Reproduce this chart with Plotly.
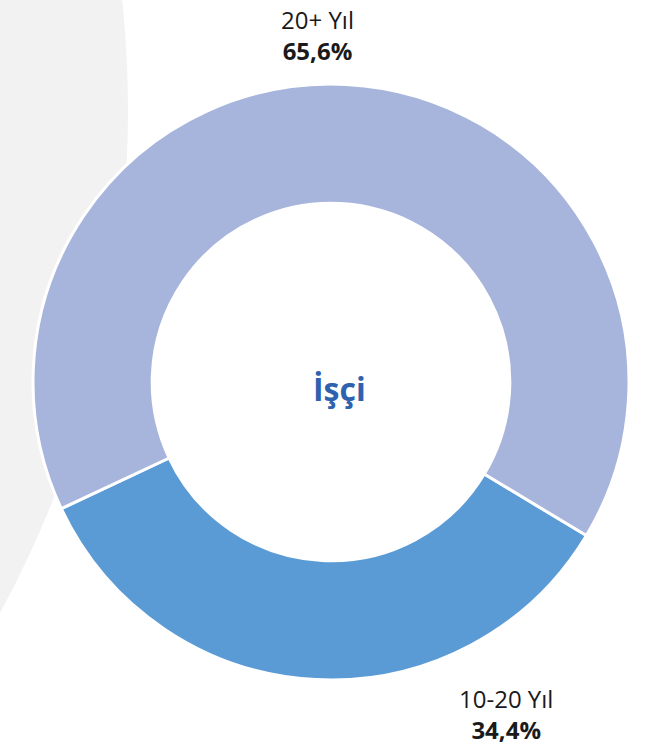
import plotly.graph_objects as go

# Data
categories = ["10-20 Yıl", "20+ Yıl"]
values = [34.4, 65.6]
colors = ["#5B9BD5", "#A7B5DC"]
center_label = "İşçi"

def fmt(v):
    return f"{v:.1f}".replace(".", ",") + "%"

W, H = 648, 754
cx, cy, R = 331, 382, 298

fig = go.Figure()
fig.add_trace(go.Pie(
    labels=categories,
    values=values,
    hole=0.6,
    sort=False,
    direction="clockwise",
    rotation=121,
    marker=dict(colors=colors, line=dict(color="white", width=3)),
    textinfo="none",
    hoverinfo="label+percent",
    showlegend=False,
    domain=dict(x=[(cx - R) / W, (cx + R) / W], y=[1 - (cy + R) / H, 1 - (cy - R) / H]),
))

# background decorative circle
gx, gy, gR = -924, 110, 1052
fig.add_shape(type="circle", xref="paper", yref="paper",
              x0=(gx - gR) / W, x1=(gx + gR) / W,
              y0=1 - (gy + gR) / H, y1=1 - (gy - gR) / H,
              fillcolor="#F2F2F2", line=dict(width=0), layer="below")

font = "Open Sans, Noto Sans, sans-serif"
label_pos = {"20+ Yıl": (317, 35), "10-20 Yıl": (506, 714)}
for cat, val in zip(categories, values):
    px, py = label_pos[cat]
    fig.add_annotation(xref="paper", yref="paper", x=px / W, y=1 - py / H,
                       xanchor="center", yanchor="middle", showarrow=False,
                       text=f"{cat}<br><b>{fmt(val)}</b>",
                       font=dict(family=font, size=24, color="#1a1a1a"))

fig.add_annotation(xref="paper", yref="paper", x=339 / W, y=1 - 388 / H,
                   xanchor="center", yanchor="middle", showarrow=False,
                   text=f"<b>{center_label}</b>",
                   font=dict(family=font, size=32, color="#2F62AE"))

fig.update_layout(width=W, height=H, margin=dict(l=0, r=0, t=0, b=0),
                  paper_bgcolor="white", plot_bgcolor="white")
fig.write_html("out.html", config={"displayModeBar": False},
               post_script="document.body.style.margin='0';document.body.style.overflow='hidden';")
